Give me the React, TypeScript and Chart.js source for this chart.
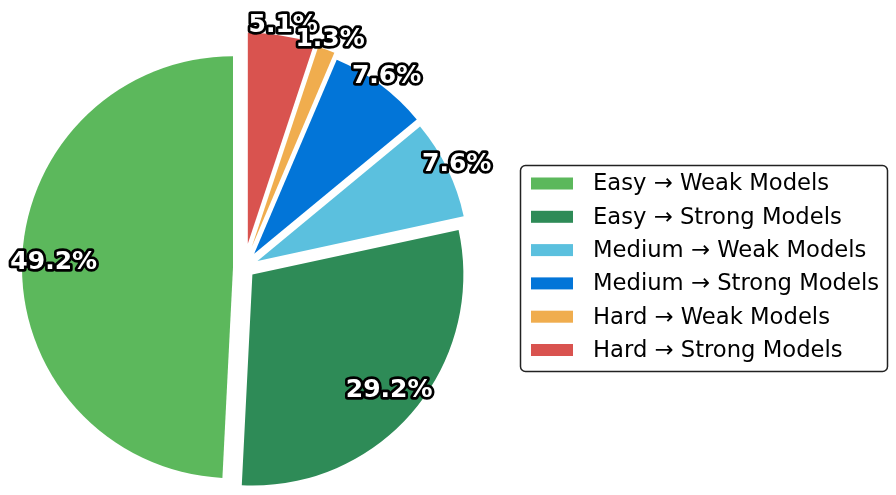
import React, { useEffect, useRef } from "react";
import { Chart, registerables } from "chart.js";

Chart.register(...registerables);

// ---- data ----
const categories = [
  "Easy → Weak Models",
  "Easy → Strong Models",
  "Medium → Weak Models",
  "Medium → Strong Models",
  "Hard → Weak Models",
  "Hard → Strong Models",
];
const shares = [49.2, 29.2, 7.6, 7.6, 1.3, 5.1];

// ---- styles ----
const colors = ["#5cb85c", "#2e8b57", "#5bc0de", "#0275d8", "#f0ad4e", "#d9534f"];
const explodePx = [11, 11, 15, 17, 22, 24];

const W = 896;
const H = 495;
const CX = 244;
const CY = 267.5;
const RADIUS = 211;

// matplotlib draws counter-clockwise from the top; Chart.js draws clockwise,
// so feed the slices in reverse order.
const order = categories.map((_, i) => categories.length - 1 - i);

// Explode each wedge by translating it (in pixels) along its mid angle,
// without the radius growth that Chart.js applies for `offset`.
function explodedDraw(this: any, ctx: CanvasRenderingContext2D) {
  const opts = this.options;
  const off = opts.offset || 0;
  const { x, y, startAngle, endAngle, outerRadius } = this;
  if (endAngle - startAngle <= 0) return;
  const mid = (startAngle + endAngle) / 2;
  ctx.save();
  ctx.translate(Math.cos(mid) * off, Math.sin(mid) * off);
  ctx.beginPath();
  ctx.moveTo(x, y);
  ctx.arc(x, y, outerRadius, startAngle, endAngle);
  ctx.closePath();
  ctx.fillStyle = opts.backgroundColor;
  ctx.fill();
  ctx.restore();
}

const explodePlugin = {
  id: "explode",
  beforeDatasetsDraw(chart: any) {
    chart.getDatasetMeta(0).data.forEach((arc: any) => {
      arc.draw = explodedDraw;
    });
  },
};

const labelPlugin = {
  id: "pctLabels",
  afterDatasetsDraw(chart: any) {
    const ctx = chart.ctx;
    const meta = chart.getDatasetMeta(0);
    const values: number[] = chart.data.datasets[0].data;
    const total = values.reduce((a, b) => a + b, 0);
    ctx.save();
    ctx.font = "bold 25px 'DejaVu Sans'";
    ctx.textAlign = "center";
    ctx.textBaseline = "middle";
    ctx.lineJoin = "round";
    ctx.lineWidth = 5.5;
    ctx.strokeStyle = "#000";
    ctx.fillStyle = "#fff";
    meta.data.forEach((arc: any, i: number) => {
      const p = arc.getProps(["x", "y", "startAngle", "endAngle", "outerRadius"], true);
      const off = arc.options.offset || 0;
      const mid = (p.startAngle + p.endAngle) / 2;
      const pct = (values[i] / total) * 100;
      const f = pct < 10 ? 1.05 : 0.85;
      const d = off + f * p.outerRadius;
      const x = p.x + Math.cos(mid) * d;
      const y = p.y + Math.sin(mid) * d;
      const txt = pct.toFixed(1) + "%";
      ctx.strokeText(txt, x, y);
      ctx.fillText(txt, x, y);
    });
    ctx.restore();
  },
};

const legendPlugin = {
  id: "boxLegend",
  afterDraw(chart: any) {
    const ctx = chart.ctx;
    const bx = 520.5, by = 165.5, bw = 367, bh = 206, r = 5;
    ctx.save();
    ctx.beginPath();
    ctx.moveTo(bx + r, by);
    ctx.lineTo(bx + bw - r, by);
    ctx.arcTo(bx + bw, by, bx + bw, by + r, r);
    ctx.lineTo(bx + bw, by + bh - r);
    ctx.arcTo(bx + bw, by + bh, bx + bw - r, by + bh, r);
    ctx.lineTo(bx + r, by + bh);
    ctx.arcTo(bx, by + bh, bx, by + bh - r, r);
    ctx.lineTo(bx, by + r);
    ctx.arcTo(bx, by, bx + r, by, r);
    ctx.closePath();
    ctx.fillStyle = "#fff";
    ctx.fill();
    ctx.lineWidth = 1.5;
    ctx.strokeStyle = "#222";
    ctx.stroke();

    ctx.font = "22.7px 'DejaVu Sans'";
    ctx.textAlign = "left";
    ctx.textBaseline = "middle";
    categories.forEach((name, i) => {
      const rowY = 183.5 + i * 33.3;
      ctx.fillStyle = colors[i];
      ctx.fillRect(531, rowY - 6, 42, 12);
      ctx.fillStyle = "#000";
      ctx.fillText(name, 593, rowY + 1);
    });
    ctx.restore();
  },
};

export default function App() {
  const canvasRef = useRef<HTMLCanvasElement | null>(null);

  useEffect(() => {
    if (!canvasRef.current) return;
    const chart = new Chart(canvasRef.current, {
      type: "pie",
      data: {
        labels: order.map((i) => categories[i]),
        datasets: [
          {
            data: order.map((i) => shares[i]),
            backgroundColor: order.map((i) => colors[i]),
            offset: order.map((i) => explodePx[i]),
            borderWidth: 0,
            clip: false as any,
          } as any,
        ],
      },
      options: {
        responsive: false,
        maintainAspectRatio: false,
        animation: false,
        radius: RADIUS,
        layout: {
          padding: {
            left: 0,
            right: W - 2 * CX,
            top: 2 * CY - H,
            bottom: 0,
          },
        },
        plugins: {
          legend: { display: false },
          tooltip: { enabled: false },
        },
        events: [],
      } as any,
      plugins: [explodePlugin, labelPlugin, legendPlugin],
    });
    return () => chart.destroy();
  }, []);

  return (
    <div style={{ position: "absolute", left: 0, top: 0, width: W, height: H, background: "#fff" }}>
      <canvas ref={canvasRef} width={W} height={H} style={{ width: W, height: H, display: "block" }} />
    </div>
  );
}
